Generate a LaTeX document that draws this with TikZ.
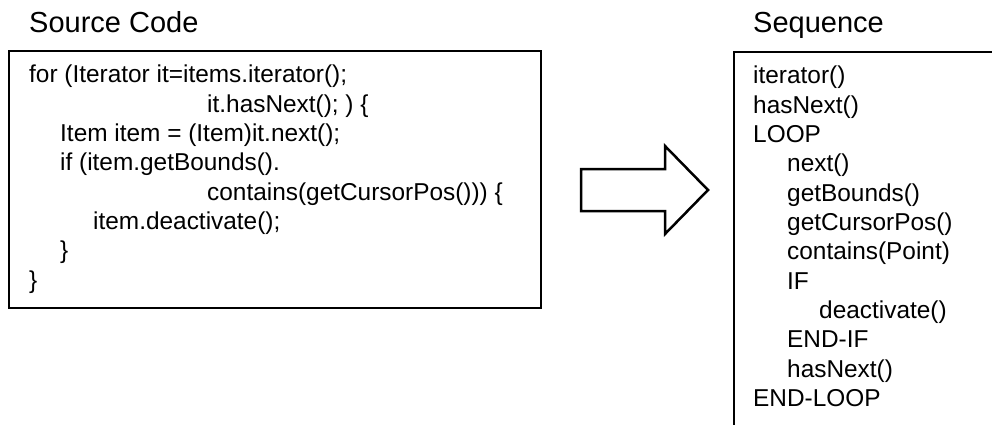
\documentclass[tikz,border=0pt]{standalone}
\usepackage{fontspec}
\setmainfont{Liberation Sans}
\begin{document}
\begin{tikzpicture}[x=1pt,y=-1pt,
  frame/.style={draw=black,line width=2.5pt},
  codeline/.style={anchor=base west,inner sep=0pt,font=\fontsize{24.4}{29.3}\selectfont},
  heading/.style={anchor=base west,inner sep=0pt,font=\fontsize{29}{34}\selectfont}]
\useasboundingbox (0,0) rectangle (992,425);
\clip (0,0) rectangle (992,425);

% headings
\node[heading] (srctitle) at (29,33) {Source Code};
\node[heading] (seqtitle) at (753,33) {Sequence};

% source code frame and lines
\draw[frame] (9,51) rectangle (541,308);
\node[codeline] (src1) at (29,83)    {for (Iterator it=items.iterator();};
\node[codeline] (src2) at (207,112.3) {it.hasNext(); ) \{};
\node[codeline] (src3) at (60,141.6)  {Item item = (Item)it.next();};
\node[codeline] (src4) at (60,170.9)  {if (item.getBounds().};
\node[codeline] (src5) at (207,200.2) {contains(getCursorPos())) \{};
\node[codeline] (src6) at (93,229.5)  {item.deactivate();};
\node[codeline] (src7) at (60,258.8)  {\}};
\node[codeline] (src8) at (29,288.1)  {\}};

% block arrow between the two frames
\draw[line width=2.5pt,line join=miter,fill=white]
  (581,169) -- (665,169) -- (665,146) -- (708,190) -- (665,234) -- (665,211) -- (581,211) -- cycle;

% sequence frame (runs past the lower and right edges)
\draw[frame] (734,52) rectangle (1010,445);
\node[codeline] (seq1)  at (753,84)    {iterator()};
\node[codeline] (seq2)  at (753,113.3) {hasNext()};
\node[codeline] (seq3)  at (753,142.6) {LOOP};
\node[codeline] (seq4)  at (787,171.9) {next()};
\node[codeline] (seq5)  at (787,201.2) {getBounds()};
\node[codeline] (seq6)  at (787,230.5) {getCursorPos()};
\node[codeline] (seq7)  at (787,259.8) {contains(Point)};
\node[codeline] (seq8)  at (787,289.1) {IF};
\node[codeline] (seq9)  at (819,318.4) {deactivate()};
\node[codeline] (seq10) at (787,347.7) {END-IF};
\node[codeline] (seq11) at (787,377.0) {hasNext()};
\node[codeline] (seq12) at (753,406.3) {END-LOOP};
\end{tikzpicture}
\end{document}
